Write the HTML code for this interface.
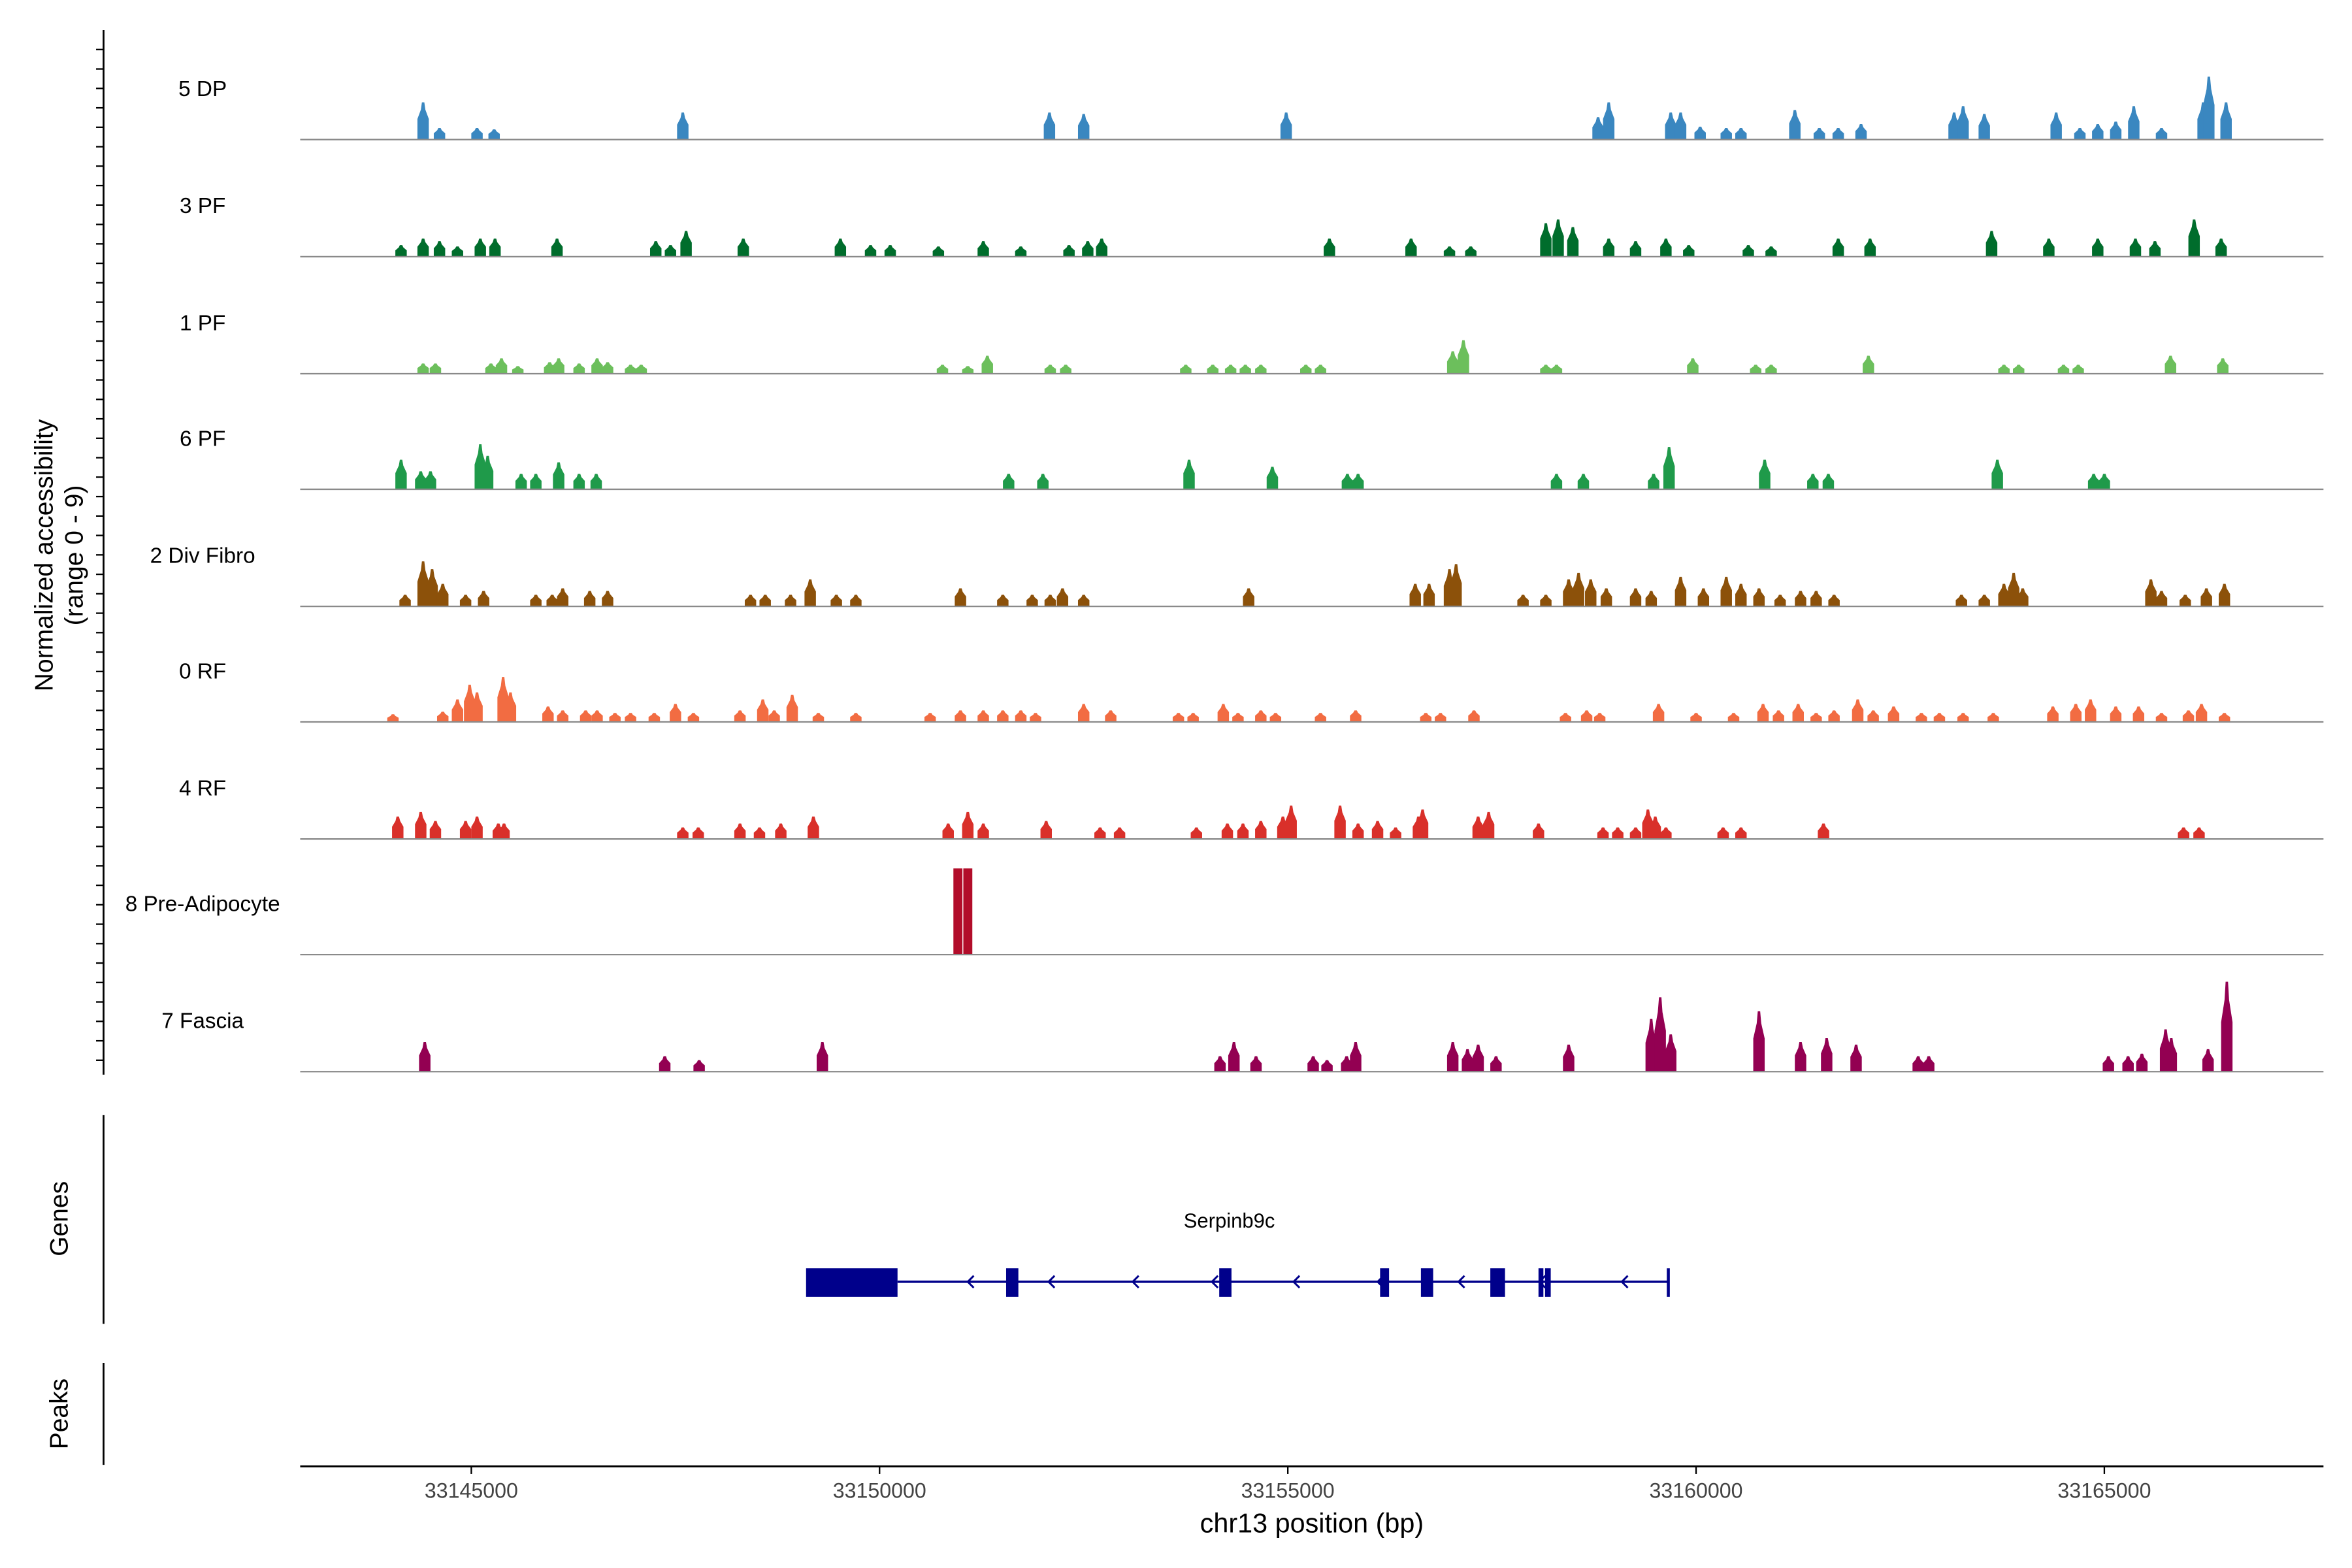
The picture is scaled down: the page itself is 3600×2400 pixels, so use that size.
<!DOCTYPE html>
<html><head><meta charset="utf-8"><style>
html,body{margin:0;padding:0;background:#fff;}
svg{display:block;font-family:"Liberation Sans",Arial,sans-serif;}
</style></head><body>
<svg id="chart" width="3600" height="2400" viewBox="0 0 1567 1044.7" preserveAspectRatio="none" xmlns="http://www.w3.org/2000/svg">
<g id="tracks"></g>
<g id="left-axis"></g>
<text transform="translate(35,370) rotate(-90)" text-anchor="middle" font-size="17">Normalized accessibility</text>
<text transform="translate(55,370) rotate(-90)" text-anchor="middle" font-size="17">(range 0 - 9)</text>
<line x1="69" y1="743" x2="69" y2="882" stroke="#000" stroke-width="1.2"/>
<text transform="translate(45,812) rotate(-90)" text-anchor="middle" font-size="17">Genes</text>
<line x1="69" y1="908" x2="69" y2="976" stroke="#000" stroke-width="1.2"/>
<text transform="translate(45,942) rotate(-90)" text-anchor="middle" font-size="17">Peaks</text>
<g id="gene"></g>
<g id="xaxis"></g>
<text x="874" y="1021" text-anchor="middle" font-size="18">chr13 position (bp)</text>
</svg>
<script>
const NS="http://www.w3.org/2000/svg";
const trackNames=["5 DP","3 PF","1 PF","6 PF","2 Div Fibro","0 RF","4 RF","8 Pre-Adipocyte","7 Fascia"];
const trackColors=["#3a87c0","#006d2c","#6cbf5c","#1f9a4a","#8c510a","#f26c42","#d9302a","#b20d2a","#930052"];
const pos5DP=[33144.41,33144.61,33145.07,33145.28,33147.59,33152.08,33152.50,33154.98,33158.80,33158.93,33159.69,33159.81,33160.05,33160.37,33160.55,33161.21,33161.51,33161.74,33162.02,33163.16,33163.27,33163.53,33164.41,33164.70,33164.92,33165.14,33165.36,33165.70,33166.21,33166.28,33166.49];
const h5DP=[2.9,0.9,0.9,0.8,2.1,2.1,2.0,2.1,1.75,2.9,2.1,2.1,1.0,0.9,0.9,2.3,0.9,0.9,1.2,2.1,2.6,2.0,2.1,0.9,1.2,1.4,2.6,0.9,2.9,4.9,2.9];
const pos3PF=[33144.14,33144.41,33144.61,33144.83,33145.11,33145.29,33146.05,33147.26,33147.44,33147.63,33148.33,33149.52,33149.89,33150.13,33150.72,33151.27,33151.73,33152.32,33152.55,33152.72,33155.51,33156.51,33156.98,33157.24,33158.16,33158.31,33158.49,33158.93,33159.26,33159.63,33159.91,33160.64,33160.92,33161.74,33162.13,33163.62,33164.32,33164.92,33165.38,33165.62,33166.10,33166.43];
const h3PF=[0.9,1.4,1.2,0.8,1.4,1.4,1.4,1.2,0.9,2.0,1.4,1.4,0.9,0.9,0.8,1.2,0.8,0.9,1.2,1.4,1.4,1.4,0.8,0.8,2.6,2.9,2.3,1.4,1.2,1.4,0.9,0.9,0.8,1.4,1.4,2.0,1.4,1.4,1.4,1.2,2.9,1.4];
const pos1PF=[33144.41,33144.56,33145.24,33145.37,33145.57,33145.96,33146.07,33146.32,33146.54,33146.67,33146.95,33147.08,33150.77,33151.08,33151.32,33152.09,33152.28,33153.75,33154.08,33154.30,33154.48,33154.67,33155.22,33155.40,33157.02,33157.15,33158.16,33158.29,33159.96,33160.73,33160.92,33162.11,33163.77,33163.95,33164.50,33164.68,33165.81,33166.45];
const h1PF=[0.8,0.8,0.8,1.2,0.6,0.9,1.2,0.8,1.2,0.9,0.7,0.7,0.7,0.6,1.4,0.7,0.7,0.7,0.7,0.7,0.7,0.7,0.7,0.7,1.75,2.6,0.7,0.7,1.2,0.7,0.7,1.4,0.7,0.7,0.7,0.7,1.4,1.2];
const pos6PF=[33144.14,33144.38,33144.50,33145.11,33145.20,33145.61,33145.79,33146.07,33146.32,33146.53,33151.58,33152.00,33153.79,33154.81,33155.73,33155.86,33158.29,33158.62,33159.48,33159.67,33160.84,33161.43,33161.62,33163.69,33164.87,33165.00];
const h6PF=[2.3,1.4,1.4,3.5,2.6,1.2,1.2,2.1,1.2,1.2,1.2,1.2,2.3,1.75,1.2,1.2,1.2,1.2,1.2,3.3,2.3,1.2,1.2,2.3,1.2,1.2];
const posDiv=[33144.19,33144.41,33144.52,33144.65,33144.93,33145.15,33145.79,33145.99,33146.12,33146.45,33146.67,33148.42,33148.60,33148.91,33149.15,33149.47,33149.71,33150.99,33151.51,33151.87,33152.09,33152.24,33152.50,33154.52,33156.56,33156.73,33156.98,33157.06,33157.88,33158.16,33158.44,33158.56,33158.71,33158.90,33159.26,33159.45,33159.81,33160.09,33160.37,33160.55,33160.77,33161.03,33161.28,33161.47,33161.69,33163.25,33163.53,33163.77,33163.89,33164.00,33165.57,33165.70,33165.99,33166.25,33166.47];
const hDiv=[0.9,3.5,2.9,1.75,0.9,1.2,0.9,0.9,1.4,1.2,1.2,0.9,0.9,0.9,2.1,0.9,0.9,1.4,0.9,0.9,0.9,1.4,0.9,1.4,1.75,1.75,2.9,3.3,0.9,0.9,2.1,2.6,2.1,1.4,1.4,1.2,2.3,1.4,2.3,1.75,1.4,0.9,1.2,1.2,0.9,0.9,0.9,1.75,2.6,1.4,2.1,1.2,0.9,1.4,1.75];
const posRF0=[33144.04,33144.65,33144.83,33144.98,33145.07,33145.39,33145.48,33145.94,33146.12,33146.40,33146.54,33146.76,33146.95,33147.24,33147.50,33147.72,33148.29,33148.57,33148.71,33148.93,33149.25,33149.71,33150.62,33150.99,33151.27,33151.51,33151.73,33151.91,33152.50,33152.83,33153.66,33153.84,33154.21,33154.39,33154.67,33154.85,33155.40,33155.83,33156.69,33156.87,33157.28,33158.40,33158.66,33158.82,33159.54,33160.00,33160.46,33160.82,33161.01,33161.25,33161.47,33161.69,33161.98,33162.17,33162.42,33162.76,33162.98,33163.27,33163.64,33164.37,33164.65,33164.83,33165.14,33165.42,33165.70,33166.03,33166.19,33166.47];
const hRF0=[0.6,0.8,1.75,2.9,2.3,3.5,2.3,1.2,0.9,0.9,0.9,0.7,0.7,0.7,1.4,0.7,0.9,1.75,0.9,2.1,0.7,0.7,0.7,0.9,0.9,0.9,0.9,0.7,1.4,0.9,0.7,0.7,1.4,0.7,0.9,0.7,0.7,0.9,0.7,0.7,0.9,0.7,0.9,0.7,1.4,0.7,0.7,1.4,0.9,1.4,0.7,0.9,1.75,0.9,1.2,0.7,0.7,0.7,0.7,1.2,1.4,1.75,1.2,1.2,0.7,0.9,1.4,0.7];
const posRF4=[33144.10,33144.38,33144.56,33144.93,33145.07,33145.33,33145.40,33147.59,33147.78,33148.29,33148.53,33148.79,33149.19,33150.84,33151.08,33151.27,33152.04,33152.70,33152.94,33153.88,33154.26,33154.45,33154.67,33154.94,33155.04,33155.64,33155.86,33156.10,33156.32,33156.60,33156.65,33157.33,33157.46,33158.07,33158.86,33159.04,33159.26,33159.41,33159.50,33159.63,33160.33,33160.55,33161.56,33165.97,33166.16];
const hRF4=[1.75,2.1,1.4,1.4,1.75,1.2,1.2,0.9,0.9,1.2,0.9,1.2,1.75,1.2,2.1,1.2,1.4,0.9,0.9,0.9,1.2,1.2,1.4,1.75,2.6,2.6,1.2,1.4,0.9,1.75,2.3,1.75,2.1,1.2,0.9,0.9,0.9,2.3,1.75,0.9,0.9,0.9,1.2,0.9,0.9];
const posAdipo=[33150.96,33151.08];
const hAdipo=[6.7,6.7];
const posFascia=[33144.43,33147.37,33147.79,33149.30,33154.17,33154.34,33154.61,33155.31,33155.48,33155.72,33155.83,33157.02,33157.20,33157.33,33157.55,33158.44,33159.45,33159.56,33159.69,33160.77,33161.28,33161.60,33161.96,33162.72,33162.85,33165.05,33165.29,33165.46,33165.75,33165.82,33166.27,33166.50];
const hFascia=[2.3,1.2,0.9,2.3,1.2,2.3,1.2,1.2,0.9,1.2,2.3,2.3,1.75,2.1,1.2,2.1,4.1,5.8,2.9,4.7,2.3,2.6,2.1,1.2,1.2,1.2,1.2,1.4,3.3,2.6,1.75,7.0];
const trackPos=[pos5DP,pos3PF,pos1PF,pos6PF,posDiv,posRF0,posRF4,posAdipo,posFascia];
const trackH=[h5DP,h3PF,h1PF,h6PF,hDiv,hRF0,hRF4,hAdipo,hFascia];
const xTicks=[33145000,33150000,33155000,33160000,33165000];
const geneExonsKb=[[33149.10,33150.22],[33151.55,33151.70],[33154.16,33154.31],[33156.13,33156.24],[33156.63,33156.78],[33157.48,33157.66],[33158.07,33158.13],[33158.15,33158.22]];
const geneStartKb=33150.22, geneEndKb=33159.66;
const geneArrowsKb=[33151.08,33152.07,33153.10,33154.07,33155.07,33156.10,33157.09,33158.08,33159.09];

const X0=314, PXKB=54.4;
function xs(kb){return X0+(kb-33145)*PXKB;}
const PXU=8.56;
const baselines=[93,171,249,326,404,481,559,636,714];
function ys(i,v){return baselines[i]-v*PXU;}

const tg=document.getElementById('tracks');
function mk(tag,attrs,parent){const e=document.createElementNS(NS,tag);for(const k in attrs)e.setAttribute(k,attrs[k]);parent.appendChild(e);return e;}
trackNames.forEach((name,i)=>{
  const g=mk('g',{},tg);
  
  
  const lbl=mk('text',{x:135,y:baselines[i]-29,'text-anchor':'middle','font-size':'14.5',fill:'#000'},g);
  lbl.textContent=name;
  
  
  const isRect=(i===7);
  trackPos[i].forEach((p,j)=>{
    const cx=xs(p), top=ys(i,trackH[i][j]), b=baselines[i];
    let pts;
    if(isRect){const w=3;pts=[[cx-w,b],[cx-w,top],[cx+w,top],[cx+w,b]];}
    else{const w=3.8;pts=[[cx-w,b],[cx-w,b-(b-top)*0.55],[cx-w*0.4,b-(b-top)*0.8],[cx-0.8,top],[cx+0.8,top],[cx+w*0.4,b-(b-top)*0.8],[cx+w,b-(b-top)*0.55],[cx+w,b]];}
    const poly=mk('polygon',{points:pts.map(q=>q[0].toFixed(1)+','+q[1].toFixed(1)).join(' '),fill:trackColors[i]},g);
    
    
  });
  const bl=mk('line',{x1:200,x2:1548,y1:baselines[i],y2:baselines[i],stroke:'#8a8a8a','stroke-width':1},g);
  
  
});
const la=document.getElementById('left-axis');
mk('line',{x1:69,y1:20,x2:69,y2:716,stroke:'#000','stroke-width':1.2},la);
for(let y=33;y<=716;y+=12.95){mk('line',{x1:64,x2:69,y1:y,y2:y,stroke:'#000','stroke-width':1},la);}
const xa=document.getElementById('xaxis');
mk('line',{x1:200,x2:1548,y1:977,y2:977,stroke:'#000','stroke-width':1.3},xa);
xTicks.forEach(t=>{
  const x=xs(t/1000);
  mk('line',{x1:x,x2:x,y1:977,y2:982,stroke:'#000','stroke-width':1},xa);
  const tx=mk('text',{x:x,y:998,'text-anchor':'middle','font-size':'14',fill:'#444'},xa);
  tx.textContent=t;
  
  
});
const gg=document.getElementById('gene');
const blue='#00008b';
mk('line',{x1:xs(geneStartKb),x2:xs(geneEndKb),y1:854,y2:854,stroke:blue,'stroke-width':1.5},gg);
mk('line',{x1:xs(geneEndKb),x2:xs(geneEndKb),y1:845,y2:864,stroke:blue,'stroke-width':2},gg);
geneExonsKb.forEach(e=>{
  const r=mk('rect',{x:xs(e[0]),y:845,width:Math.max(2,xs(e[1])-xs(e[0])),height:19,fill:blue},gg);
  
  
});
geneArrowsKb.forEach(a=>{
  const x=xs(a);
  mk('polyline',{points:`${x+4},850 ${x},854 ${x+4},858`,fill:'none',stroke:blue,'stroke-width':1.3},gg);
});
const gl=mk('text',{x:819,y:818,'text-anchor':'middle','font-size':'13.5',fill:'#000'},gg);
gl.textContent='Serpinb9c';


</script>
</body></html>
